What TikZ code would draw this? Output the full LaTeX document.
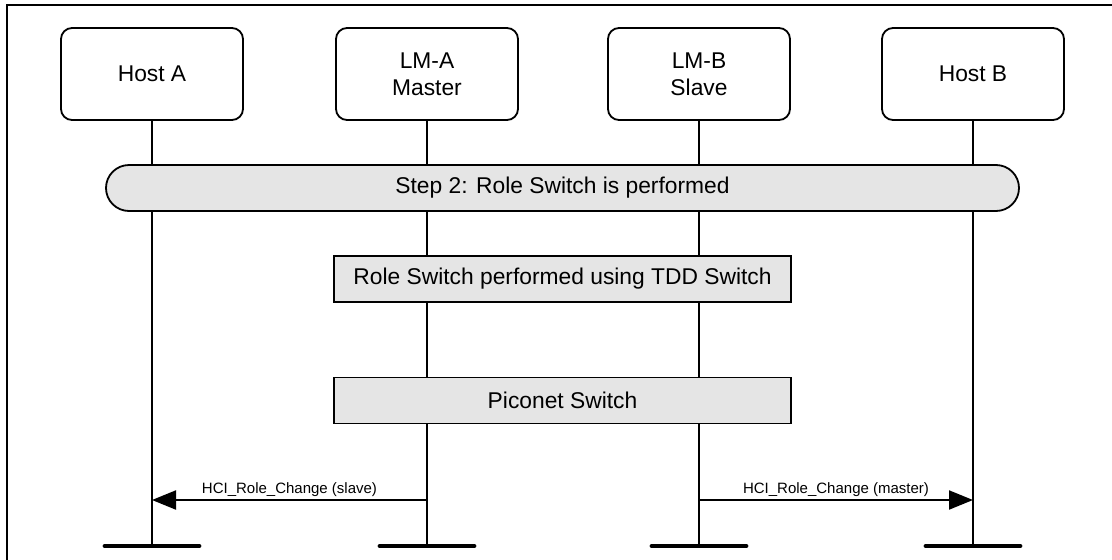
\documentclass[tikz,border=0pt]{standalone}
\usepackage{fontspec}
\setmainfont{Liberation Sans}
\usetikzlibrary{arrows.meta,positioning}

\begin{document}
\begin{tikzpicture}[
  x=1pt, y=-1pt,
  every node/.style={font=\fontsize{22.8}{27}\selectfont},
  entity/.style={draw, line width=1.8pt, rounded corners=11pt, minimum width=182pt, minimum height=92pt, align=center},
  phase/.style={draw, line width=1.8pt, fill=black!10, rounded corners=23pt, minimum width=913pt, minimum height=46pt},
  action/.style={draw, line width=1.8pt, fill=black!10, minimum width=457pt, minimum height=46pt},
  lifeline/.style={line width=2pt},
  endbar/.style={line width=4.8pt, line cap=round},
  msg/.style={line width=2pt, -{Triangle[length=24pt,width=19pt]}},
  msglabel/.style={above, inner sep=2pt, font=\fontsize{15}{18}\selectfont}
]
\useasboundingbox (0,0) rectangle (1112,560);
\draw[line width=2pt] (7,560) -- (7,5) -- (1112,5);

% participants
\node[entity] (hosta) at (152,74) {Host A};
\node[entity] (lma)   at (427,74) {LM-A\\Master};
\node[entity] (lmb)   at (699,74) {LM-B\\Slave};
\node[entity] (hostb) at (973,74) {Host B};

\coordinate (enda) at (hosta.south |- 0,546);
\coordinate (endla) at (lma.south |- 0,546);
\coordinate (endlb) at (lmb.south |- 0,546);
\coordinate (endb) at (hostb.south |- 0,546);

\draw[lifeline] (hosta.south) -- (enda);
\draw[lifeline] (lma.south) -- (endla);
\draw[lifeline] (lmb.south) -- (endlb);
\draw[lifeline] (hostb.south) -- (endb);

\draw[endbar] ([xshift=-47pt]enda) -- ([xshift=47pt]enda);
\draw[endbar] ([xshift=-47pt]endla) -- ([xshift=47pt]endla);
\draw[endbar] ([xshift=-47pt]endlb) -- ([xshift=47pt]endlb);
\draw[endbar] ([xshift=-47pt]endb) -- ([xshift=47pt]endb);

% steps
\node[phase] (step2) at (562.5,188) {Step 2: Role Switch is performed};
\node[action] (tdd) at (562.5,279) {Role Switch performed using TDD Switch};
\node[action] (piconet) at (562.5,400.5) {Piconet Switch};

% messages
\coordinate (fromla) at (lma.south |- 0,500);
\coordinate (toa)    at (hosta.south |- 0,500);
\coordinate (fromlb) at (lmb.south |- 0,500);
\coordinate (tob)    at (hostb.south |- 0,500);
\draw[msg] (fromla) -- node[msglabel] {HCI\_Role\_Change (slave)} (toa);
\draw[msg] (fromlb) -- node[msglabel] {HCI\_Role\_Change (master)} (tob);
\end{tikzpicture}
\end{document}
